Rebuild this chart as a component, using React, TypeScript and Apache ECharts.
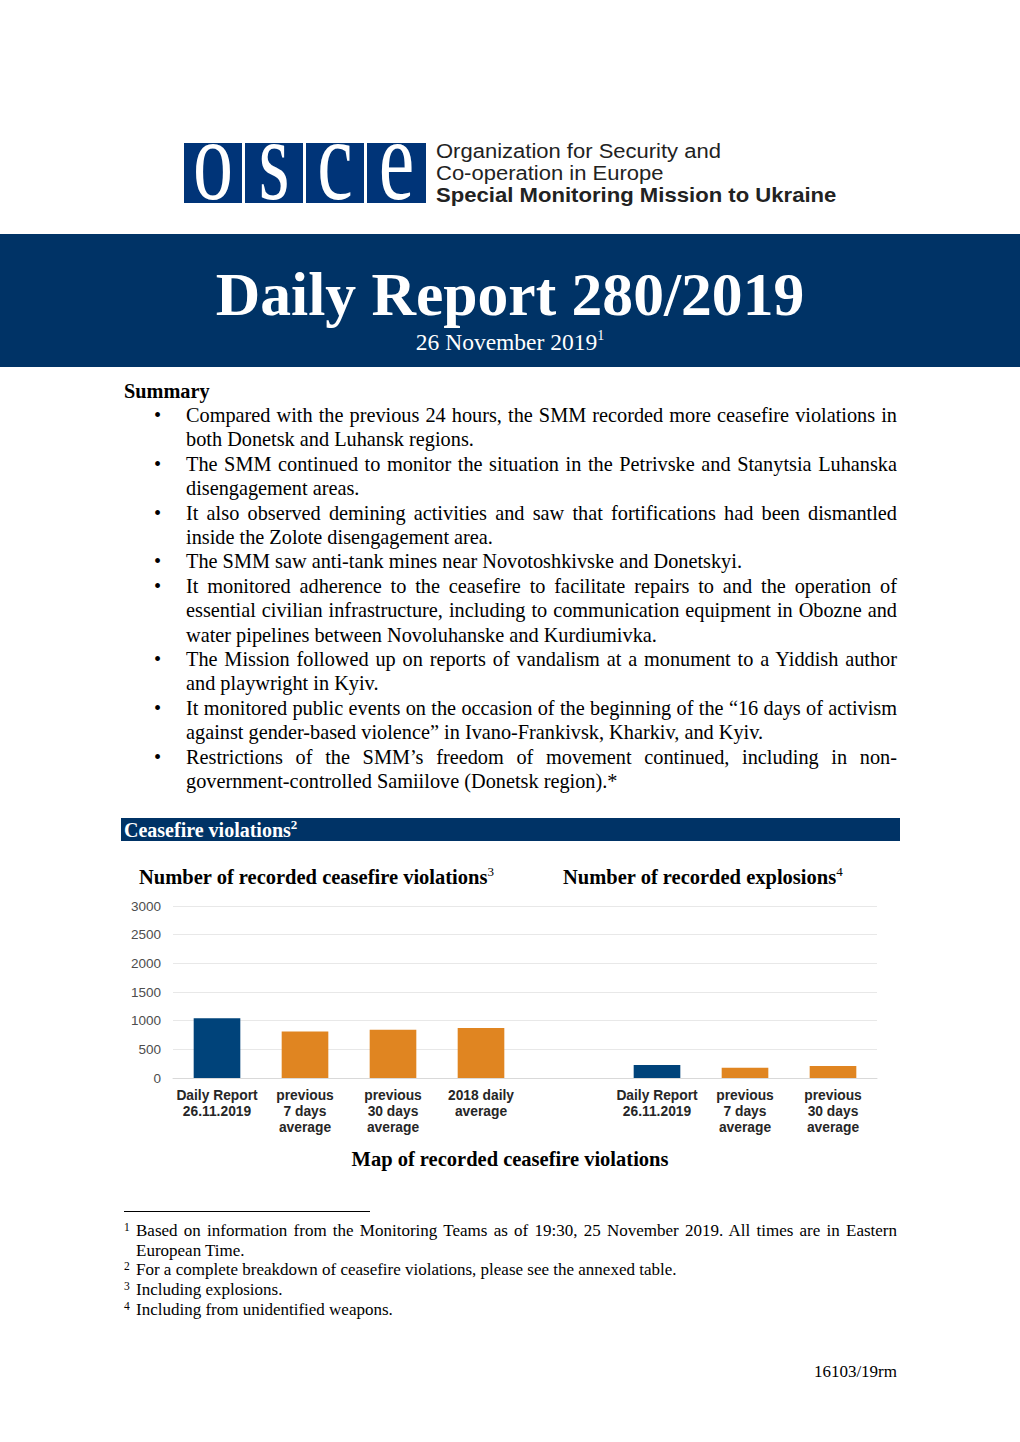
import React, { useEffect, useRef } from "react";
import * as echarts from "echarts";

const violationCategories = ["Daily Report\n26.11.2019", "previous\n7 days\naverage", "previous\n30 days\naverage", "2018 daily\naverage"];
const violationValues = [1040, 810, 840, 870];
const explosionCategories = ["Daily Report\n26.11.2019", "previous\n7 days\naverage", "previous\n30 days\naverage"];
const explosionValues = [225, 180, 210];
const yMax = 3000;
const yInterval = 500;

const NAVY = "#00437a";
const ORANGE = "#e08521";
const BAND = "#003366";

const summaryLines: { text: string; bullet: boolean; last: boolean }[][] = [
  [
    { text: "Compared with the previous 24 hours, the SMM recorded more ceasefire violations in", bullet: true, last: false },
    { text: "both Donetsk and Luhansk regions.", bullet: false, last: true },
  ],
  [
    { text: "The SMM continued to monitor the situation in the Petrivske and Stanytsia Luhanska", bullet: true, last: false },
    { text: "disengagement areas.", bullet: false, last: true },
  ],
  [
    { text: "It also observed demining activities and saw that fortifications had been dismantled", bullet: true, last: false },
    { text: "inside the Zolote disengagement area.", bullet: false, last: true },
  ],
  [{ text: "The SMM saw anti-tank mines near Novotoshkivske and Donetskyi.", bullet: true, last: true }],
  [
    { text: "It monitored adherence to the ceasefire to facilitate repairs to and the operation of", bullet: true, last: false },
    { text: "essential civilian infrastructure, including to communication equipment in Obozne and", bullet: false, last: false },
    { text: "water pipelines between Novoluhanske and Kurdiumivka.", bullet: false, last: true },
  ],
  [
    { text: "The Mission followed up on reports of vandalism at a monument to a Yiddish author", bullet: true, last: false },
    { text: "and playwright in Kyiv.", bullet: false, last: true },
  ],
  [
    { text: "It monitored public events on the occasion of the beginning of the \u201c16 days of activism", bullet: true, last: false },
    { text: "against gender-based violence\u201d in Ivano-Frankivsk, Kharkiv, and Kyiv.", bullet: false, last: true },
  ],
  [
    { text: "Restrictions of the SMM\u2019s freedom of movement continued, including in non-", bullet: true, last: false },
    { text: "government-controlled Samiilove (Donetsk region).*", bullet: false, last: true },
  ],
];

const serif = "'Liberation Serif', 'Times New Roman', serif";
const sans = "'Liberation Sans', Arial, sans-serif";

function Chart() {
  const ref = useRef<HTMLDivElement>(null);
  useEffect(() => {
    if (!ref.current) return;
    const chart = echarts.init(ref.current, undefined, { renderer: "svg" });
    const cats = [...violationCategories, "", ...explosionCategories];
    const data: any[] = [];
    violationValues.forEach((v, i) => data.push({ value: v, itemStyle: { color: i === 0 ? NAVY : ORANGE } }));
    data.push("-");
    explosionValues.forEach((v, i) => data.push({ value: v, itemStyle: { color: i === 0 ? NAVY : ORANGE } }));
    chart.setOption({
      animation: false,
      grid: { left: 53, top: 11, width: 704, height: 172 },
      xAxis: {
        type: "category",
        data: cats,
        axisTick: { show: false },
        axisLine: { lineStyle: { color: "#d9d9d9" } },
        axisLabel: {
          interval: 0,
          margin: 9,
          lineHeight: 16,
          fontSize: 13.8,
          fontWeight: "bold",
          fontFamily: sans,
          color: "#262626",
        },
      },
      yAxis: {
        type: "value",
        min: 0,
        max: yMax,
        interval: yInterval,
        axisLine: { show: false },
        axisTick: { show: false },
        axisLabel: { fontSize: 13.5, fontFamily: sans, color: "#4d4d4d", margin: 12, formatter: (v: number) => String(v) },
        splitLine: { lineStyle: { color: "#e8e8e8" } },
      },
      series: [
        {
          type: "bar",
          data,
          barWidth: "53%",
        },
      ],
    });
    return () => chart.dispose();
  }, []);
  return <div ref={ref} style={{ position: "absolute", left: 120, top: 895, width: 770, height: 250 }} />;
}

export default function App() {
  useEffect(() => {
    document.body.style.margin = "0";
  }, []);
  const lineH = 24.4;
  let idx = 0;
  const rows: React.ReactNode[] = [];
  summaryLines.forEach((b, bi) => {
    b.forEach((l, li) => {
      const top = 403 + idx * lineH;
      rows.push(
        <React.Fragment key={bi + "-" + li}>
          {l.bullet && (
            <div style={{ position: "absolute", left: 154, top, lineHeight: lineH + "px", fontSize: 20.3, fontFamily: serif }}>{"\u2022"}</div>
          )}
          <div
            style={{
              position: "absolute",
              left: 186,
              top,
              width: 711,
              lineHeight: lineH + "px",
              fontSize: 20.3,
              fontFamily: serif,
              textAlign: "justify",
              textAlignLast: l.last ? "left" : "justify",
              whiteSpace: "nowrap",
            }}
          >
            {l.text}
          </div>
        </React.Fragment>
      );
      idx++;
    });
  });

  const boxes = ["o", "s", "c", "e"];
  const boxX = [184, 245, 306, 367];
  const footnotes = [
    { n: "1", lines: ["Based on information from the Monitoring Teams as of 19:30, 25 November 2019. All times are in Eastern", "European Time."] },
    { n: "2", lines: ["For a complete breakdown of ceasefire violations, please see the annexed table."] },
    { n: "3", lines: ["Including explosions."] },
    { n: "4", lines: ["Including from unidentified weapons."] },
  ];
  let fIdx = 0;
  const fRows: React.ReactNode[] = [];
  footnotes.forEach((f) => {
    f.lines.forEach((t, li) => {
      const top = 1221 + fIdx * 19.7;
      fRows.push(
        <React.Fragment key={f.n + li}>
          {li === 0 && (
            <div style={{ position: "absolute", left: 124, top: top - 3, fontSize: 11.5, lineHeight: "19.7px", fontFamily: serif }}>{f.n}</div>
          )}
          <div
            style={{
              position: "absolute",
              left: 136,
              top,
              width: 761,
              fontSize: 17,
              lineHeight: "19.7px",
              fontFamily: serif,
              whiteSpace: "nowrap",
              textAlign: "justify",
              textAlignLast: li < f.lines.length - 1 ? "justify" : "left",
            }}
          >
            {t}
          </div>
        </React.Fragment>
      );
      fIdx++;
    });
  });

  return (
    <div style={{ position: "relative", width: 1020, height: 1442, background: "#fff", overflow: "hidden", color: "#000" }}>
      {boxes.map((c, i) => (
        <div
          key={c}
          style={{
            position: "absolute",
            left: boxX[i],
            top: 143,
            width: i === 3 ? 59 : 58,
            height: 60,
            background: "#003478",
          }}
        />
      ))}
      {boxes.map((c, i) => (
        <div
          key={"t" + c}
          style={{
            position: "absolute",
            left: boxX[i],
            top: 143 + 0.9,
            width: i === 3 ? 59 : 58,
            textAlign: "center",
            fontFamily: serif,
            fontSize: 80,
            lineHeight: "40px",
            color: "#fff",
            transform: "scaleY(1.45)",
            transformOrigin: "50% 29.1px",
          }}
        >
          {c}
        </div>
      ))}
      <div
        style={{
          position: "absolute",
          left: 436,
          top: 140,
          fontFamily: sans,
          fontSize: 20,
          lineHeight: "22px",
          color: "#222",
          transform: "scaleX(1.1)",
          transformOrigin: "0 0",
          whiteSpace: "nowrap",
        }}
      >
        <div>Organization for Security and</div>
        <div>Co-operation in Europe</div>
        <div style={{ fontWeight: "bold", fontSize: 20.1 }}>Special Monitoring Mission to Ukraine</div>
      </div>

      <div style={{ position: "absolute", left: 0, top: 234, width: 1020, height: 133, background: BAND }} />
      <div style={{ position: "absolute", left: 0, top: 258, width: 1020, textAlign: "center", fontFamily: serif, fontWeight: "bold", fontSize: 61.6, lineHeight: "72px", color: "#fff" }}>
        Daily Report 280/2019
      </div>
      <div style={{ position: "absolute", left: 0, top: 329, width: 1020, textAlign: "center", fontFamily: serif, fontSize: 23.5, lineHeight: "26px", color: "#fff" }}>
        26 November 2019<sup style={{ fontSize: 14, verticalAlign: "10px", lineHeight: 0 }}>1</sup>
      </div>

      <div style={{ position: "absolute", left: 124, top: 379, fontFamily: serif, fontWeight: "bold", fontSize: 20.3, lineHeight: "24px" }}>Summary</div>
      {rows}

      <div style={{ position: "absolute", left: 121, top: 818, width: 779, height: 23, background: BAND }} />
      <div style={{ position: "absolute", left: 124, top: 818, fontFamily: serif, fontWeight: "bold", fontSize: 20, lineHeight: "24px", color: "#fff" }}>
        Ceasefire violations<sup style={{ fontSize: 13, verticalAlign: "8px", lineHeight: 0 }}>2</sup>
      </div>

      <div style={{ position: "absolute", left: 139, top: 865, fontFamily: serif, fontWeight: "bold", fontSize: 20.5, lineHeight: "24px" }}>
        Number of recorded ceasefire violations<sup style={{ fontSize: 13, fontWeight: "normal", verticalAlign: "8px", lineHeight: 0 }}>3</sup>
      </div>
      <div style={{ position: "absolute", left: 563, top: 865, fontFamily: serif, fontWeight: "bold", fontSize: 20.5, lineHeight: "24px" }}>
        Number of recorded explosions<sup style={{ fontSize: 13, fontWeight: "normal", verticalAlign: "8px", lineHeight: 0 }}>4</sup>
      </div>

      <Chart />

      <div style={{ position: "absolute", left: 0, top: 1147, width: 1020, textAlign: "center", fontFamily: serif, fontWeight: "bold", fontSize: 20.5, lineHeight: "24px" }}>
        Map of recorded ceasefire violations
      </div>

      <div style={{ position: "absolute", left: 124, top: 1211, width: 246, height: 1, background: "#000" }} />
      {fRows}

      <div style={{ position: "absolute", right: 123, top: 1361, fontFamily: serif, fontSize: 17, lineHeight: "22px" }}>16103/19rm</div>
    </div>
  );
}
